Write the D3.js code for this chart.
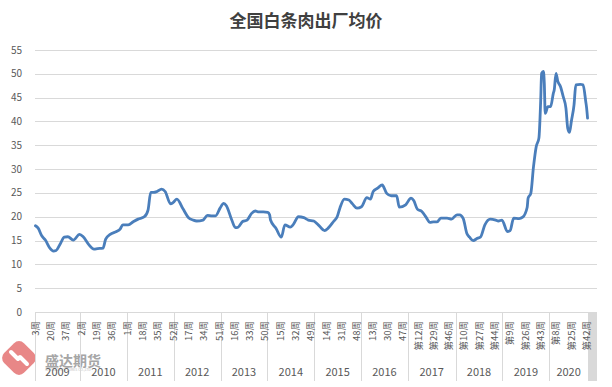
<!DOCTYPE html>
<html>
<head>
<meta charset="utf-8">
<script src="https://cdn.jsdelivr.net/npm/d3@7/dist/d3.min.js"></script>
<style>
body { margin: 0; background: #fff; }
text { font-family: "Noto Sans CJK SC", "Liberation Sans", sans-serif; }
</style>
</head>
<body>
<div id="chart"></div>
<script>
const width = 612
const height = 387
const plot = { left: 35, right: 597, top: 50, bottom: 312 }

// category axis: one slot per week, 2009 starts at week 3
const years = [2009, 2010, 2011, 2012, 2013, 2014, 2015, 2016, 2017, 2018, 2019, 2020]
const firstWeek = [3, 1, 1, 1, 1, 1, 1, 1, 1, 1, 1, 1]
const lastWeek = [52, 52, 52, 52, 52, 52, 52, 52, 53, 52, 52, 43]
const blankSlots = 10
const labelEvery = 17

// price samples (yuan/kg)
const sampleYear = [
  2009, 2009, 2009, 2009, 2009, 2009, 2009, 2009, 2009, 2009, 2009, 2009,
  2010, 2010, 2010, 2010, 2010, 2010, 2010, 2010, 2010, 2010,
  2011, 2011, 2011, 2011, 2011, 2011, 2011, 2011, 2011, 2011, 2011, 2011,
  2012, 2012, 2012, 2012, 2012, 2012, 2012, 2012, 2012, 2012,
  2013, 2013, 2013, 2013, 2013, 2013, 2013, 2013, 2013, 2013, 2013,
  2014, 2014, 2014, 2014, 2014, 2014, 2014, 2014, 2014, 2014, 2014, 2014,
  2015, 2015, 2015, 2015, 2015, 2015, 2015, 2015, 2015, 2015,
  2016, 2016, 2016, 2016, 2016, 2016, 2016, 2016, 2016, 2016, 2016, 2016,
  2017, 2017, 2017, 2017, 2017, 2017, 2017, 2017, 2017, 2017, 2017,
  2018, 2018, 2018, 2018, 2018, 2018, 2018, 2018, 2018, 2018, 2018, 2018, 2018,
  2019, 2019, 2019, 2019, 2019, 2019, 2019, 2019, 2019, 2019, 2019, 2019, 2019, 2019, 2019, 2019, 2019,
  2020, 2020, 2020, 2020, 2020, 2020, 2020, 2020, 2020, 2020, 2020, 2020, 2020, 2020, 2020, 2020, 2020, 2020
]
const sampleWeek = [
  3, 6, 10, 14, 19, 23, 26, 30, 35, 39, 45, 52,
  4, 10, 16, 20, 26, 29, 34, 41, 45, 48,
  2, 8, 13, 20, 24, 27, 30, 34, 39, 43, 49, 52,
  4, 11, 17, 22, 26, 33, 38, 43, 47, 52,
  4, 7, 13, 17, 20, 25, 30, 35, 39, 43, 48,
  1, 3, 4, 10, 16, 20, 26, 29, 35, 41, 46, 52,
  5, 12, 16, 22, 26, 29, 34, 39, 43, 48,
  1, 7, 11, 14, 19, 24, 25, 29, 34, 40, 43, 50,
  4, 7, 11, 16, 21, 25, 29, 33, 37, 44, 49,
  2, 5, 9, 13, 16, 20, 25, 28, 33, 39, 45, 48, 52,
  6, 9, 13, 19, 23, 28, 29, 32, 35, 38, 41, 43, 44, 46, 47, 48, 51,
  2, 5, 6, 8, 10, 13, 16, 19, 21, 23, 25, 28, 30, 35, 38, 41, 42, 43
]
const samplePrice = [
  18.1, 17.6, 16.0, 15.1, 13.4, 12.8, 12.9, 14.1, 15.7, 15.8, 15.1, 16.3,
  15.8, 14.2, 13.2, 13.3, 13.4, 15.3, 16.3, 16.9, 17.4, 18.3,
  18.3, 19.0, 19.5, 20.0, 21.4, 25.1, 25.1, 25.3, 25.8, 25.3, 22.7, 23.0,
  23.7, 21.6, 19.8, 19.3, 19.1, 19.3, 20.3, 20.2, 20.2, 21.8,
  22.8, 22.3, 19.3, 17.7, 17.8, 19.0, 19.3, 20.7, 21.2, 21.0, 21.0,
  20.9, 20.4, 19.3, 17.6, 15.7, 18.3, 17.8, 18.3, 20.0, 19.8, 19.3, 19.1,
  18.3, 17.1, 17.6, 19.0, 20.0, 21.8, 23.7, 23.5, 22.7, 21.8,
  22.1, 24.0, 23.7, 25.3, 26.0, 26.7, 26.5, 24.9, 24.4, 24.4, 22.0, 22.5,
  23.9, 23.4, 21.6, 21.1, 19.8, 18.8, 18.9, 18.9, 19.7, 19.7, 19.5,
  20.4, 20.4, 19.6, 16.5, 15.7, 15.0, 15.5, 15.7, 18.3, 19.5, 19.3, 19.1, 19.3,
  16.9, 17.1, 19.7, 19.6, 19.9, 22.0, 23.9, 24.9, 30.5, 34.7, 36.5, 44.5, 50.1, 50.5, 48.0, 41.7, 43.1,
  43.1, 45.9, 46.6, 50.1, 48.4, 47.3, 45.2, 42.8, 38.6, 37.7, 40.0, 43.5, 47.7, 47.8, 47.7, 44.2, 42.8, 40.7
]
const yTicks = [0, 5, 10, 15, 20, 25, 30, 35, 40, 45, 50, 55]

// build the categories
let categories = []
years.forEach((yr, i) => {
    for (let w = firstWeek[i]; w <= lastWeek[i]; w++) {
        let label = yr >= 2017 ? "第" + w + "周" : w + "周"
        categories.push({ id: yr + "-" + w, year: yr, week: w, label: label })
    }
})
const dataCount = categories.length
for (let b = 0; b < blankSlots; b++) {
    categories.push({ id: "blank-" + b, year: null, label: "" })
}

const samples = sampleYear.map((yr, i) => ({ id: yr + "-" + sampleWeek[i], price: samplePrice[i] }))

let svg = d3.select("#chart")
    .append("svg")
    .attr("width", width)
    .attr("height", height)

const x = d3.scaleBand()
    .domain(categories.map(c => c.id))
    .range([plot.left, plot.right])
const bw = x.bandwidth()

const y = d3.scaleLinear()
    .domain([0, 55])
    .range([plot.bottom, plot.top])

// watermark
let logo = svg.append("g")
    .attr("transform", "translate(19,358)")
    .style("opacity", 0.85)
logo.append("rect")
    .attr("x", -14).attr("y", -14)
    .attr("width", 28).attr("height", 28)
    .attr("rx", 7)
    .attr("transform", "rotate(45)")
    .style("fill", "#e57373")
logo.append("path")
    .attr("d", "M -8,-6 L -1,1 M 1,-1 L 8,6 M -1,1 L 1,-1")
    .style("fill", "none")
    .style("stroke", "#fff")
    .style("stroke-width", 4)
    .style("stroke-linecap", "round")
svg.append("text")
    .attr("x", 45).attr("y", 366)
    .style("font-size", "14px")
    .style("font-weight", "bold")
    .style("fill", "#a6a6a6")
    .text("盛达期货")
svg.append("text")
    .attr("x", 45).attr("y", 371)
    .style("font-size", "3.5px")
    .style("fill", "#c0c0c0")
    .text("SHENGDA FUTURES CO.,LTD")

// title
svg.append("text")
    .attr("x", 306).attr("y", 27)
    .attr("text-anchor", "middle")
    .style("font-size", "17px")
    .style("font-weight", "bold")
    .style("fill", "#404040")
    .text("全国白条肉出厂均价")

// gridlines + y labels
svg.append("g")
    .selectAll("line")
    .data(yTicks)
    .join("line")
    .attr("x1", plot.left).attr("x2", plot.right)
    .attr("y1", d => Math.round(y(d)) + 0.5)
    .attr("y2", d => Math.round(y(d)) + 0.5)
    .style("stroke", "#d9d9d9")
    .style("stroke-width", 1)

svg.append("g")
    .selectAll("text")
    .data(yTicks)
    .join("text")
    .attr("x", 22)
    .attr("y", d => y(d))
    .attr("dy", "0.35em")
    .attr("text-anchor", "end")
    .style("font-size", "10px")
    .style("fill", "#595959")
    .text(d => d)

// grey strip at the end of the axis
const blankStart = x(categories[dataCount].id)
svg.append("rect")
    .attr("x", blankStart)
    .attr("y", plot.bottom)
    .attr("width", plot.right - blankStart)
    .attr("height", 69)
    .style("fill", "#d9d9d9")

// year group dividers + labels
const groups = years.map(yr => {
    const cs = categories.filter(c => c.year === yr)
    return { year: yr, x0: x(cs[0].id), x1: x(cs[cs.length - 1].id) + bw }
})
svg.append("g")
    .selectAll("line")
    .data(groups)
    .join("line")
    .attr("x1", d => Math.round(d.x0) + 0.5)
    .attr("x2", d => Math.round(d.x0) + 0.5)
    .attr("y1", plot.bottom)
    .attr("y2", plot.bottom + 69)
    .style("stroke", "#d9d9d9")

svg.append("g")
    .selectAll("text")
    .data(groups)
    .join("text")
    .attr("x", d => (d.x0 + d.x1) / 2)
    .attr("y", 376)
    .attr("text-anchor", "middle")
    .style("font-size", "11px")
    .style("fill", "#595959")
    .text(d => d.year)

// week labels
const weekLabels = categories.filter((c, i) => i < dataCount && i % labelEvery === 0)
svg.append("g")
    .selectAll("text")
    .data(weekLabels)
    .join("text")
    .attr("transform", d => "translate(" + (x(d.id) + bw / 2) + ",321) rotate(-90)")
    .attr("dy", "0.35em")
    .attr("text-anchor", "end")
    .style("font-size", "9.5px")
    .style("fill", "#595959")
    .text(d => d.label)

// price line
const line = d3.line()
    .x(d => x(d.id) + bw / 2)
    .y(d => y(d.price))
    .curve(d3.curveMonotoneX)

svg.append("path")
    .datum(samples)
    .attr("d", line)
    .style("fill", "none")
    .style("stroke", "#4a7ebb")
    .style("stroke-width", 2.8)
    .style("stroke-linejoin", "round")
    .style("stroke-linecap", "round")
</script>
</body>
</html>
